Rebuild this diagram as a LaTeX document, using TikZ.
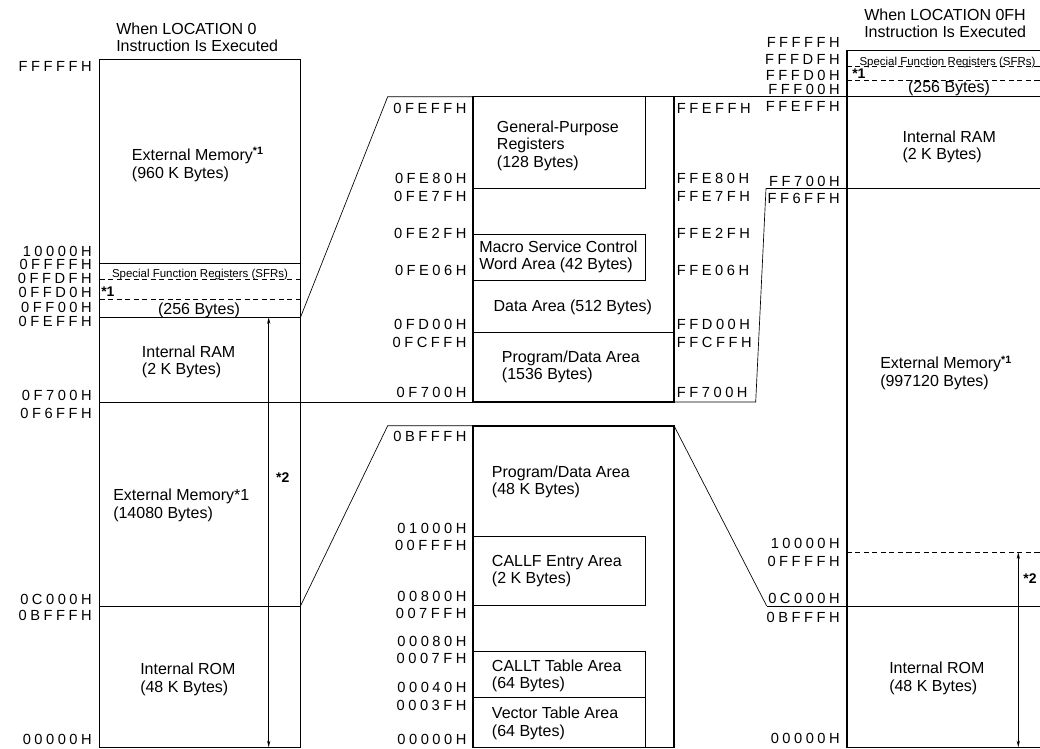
\documentclass[tikz,border=0pt]{standalone}
\usepackage{fontspec}
\setmainfont{Liberation Sans}
\newfontfamily\hexfont[LetterSpace=24]{Liberation Sans}
\usetikzlibrary{arrows.meta}
\tikzset{
  txt/.style={font=\fontsize{12}{13.1}\selectfont, inner sep=0pt, align=left, anchor=base west},
  sfr/.style={font=\fontsize{8.6}{10}\selectfont, inner sep=0pt, anchor=base},
  mid/.style={font=\fontsize{12}{13.1}\selectfont, inner sep=0pt, anchor=base},
  star/.style={font=\bfseries\fontsize{10.5}{12}\selectfont, inner sep=0pt, anchor=base},
  hexR/.style={font=\hexfont\fontsize{11}{12}\selectfont, inner sep=0pt, anchor=base east},
  hexL/.style={font=\hexfont\fontsize{11}{12}\selectfont, inner sep=0pt, anchor=base west},
  outer/.style={line width=1.2pt},
  div/.style={line width=0.7pt},
  dashdiv/.style={line width=0.7pt, dash pattern=on 3.8pt off 2.6pt},
  link/.style={line width=0.5pt},
  dimarrow/.style={line width=0.5pt, {Stealth[length=5pt,width=2.4pt]}-{Stealth[length=5pt,width=2.4pt]}}
}
\newcommand{\sone}{\textsuperscript{\textbf{*1}}}
\begin{document}
\begin{tikzpicture}[x=0.75pt,y=-0.75pt]
\useasboundingbox (0,0) rectangle (1040,749);
\clip (0,0) rectangle (1040,749);

% ---------- named coordinates ----------
\coordinate (LL) at (99.5,59.5);   \coordinate (LR) at (300.5,747.3);
\coordinate (L317) at (300.5,317.3); \coordinate (L606) at (300.5,606);
\coordinate (L402) at (99.5,402);
\coordinate (CT1) at (472.7,96.7); \coordinate (CT2) at (674,402);
\coordinate (CB1) at (472.7,425.7); \coordinate (CB2) at (674,747.3);
\coordinate (TA) at (387.7,96.7);  \coordinate (BA) at (387.7,425.7);
\coordinate (TR) at (674,96.7);    \coordinate (TRe) at (1045,96.7);
\coordinate (BRa) at (755.7,402);  \coordinate (BRb) at (766,188.5); \coordinate (BRe) at (1045,188.5);
\coordinate (BR1) at (674,425.7);  \coordinate (BR2) at (766.7,606); \coordinate (BR3) at (1045,606);
\coordinate (RL) at (846.7,50.7);

% ---------- left column ----------
\draw[outer] (LL) rectangle (LR);
\draw[div] (99.5,263.3) -- (300.5,263.3);
\draw[dashdiv] (99.5,279.3) -- (300.5,279.3);
\draw[dashdiv] (99.5,299.3) -- (300.5,299.3);
\draw[div] (99.5,317.3) -- (L317);
\draw[div] (99.5,606) -- (L606);
\draw[div] (L402) -- (472.7,402);
\draw[dimarrow] (268.7,317.3) -- (268.7,747.3);

% ---------- centre top block ----------
\draw[outer] (CT1) rectangle (CT2);
\draw[div] (472.7,96.7) -- (645.3,96.7) -- (645.3,188.7) -- (472.7,188.7);
\draw[div] (472.7,234) -- (645.3,234) -- (645.3,280.3) -- (472.7,280.3);
\draw[div] (472.7,332.3) -- (674,332.3);
\draw[link] (L317) -- (TA) -- (CT1);
\draw[div] (TR) -- (TRe);
\draw[link] (674,402) -- (BRa) -- (BRb);
\draw[div] (BRb) -- (BRe);

% ---------- centre bottom block ----------
\draw[outer] (CB1) rectangle (CB2);
\draw[div] (472.7,536.7) -- (645.3,536.7) -- (645.3,605.7) -- (472.7,605.7);
\draw[div] (472.7,651.7) -- (645.3,651.7) -- (645.3,747.3);
\draw[div] (472.7,697.3) -- (645.3,697.3);
\draw[link] (L606) -- (BA) -- (CB1);
\draw[link] (BR1) -- (BR2);
\draw[div] (BR2) -- (BR3);

% ---------- right column ----------
\draw[outer] (1045,50.7) -- (RL) -- (846.7,747.3) -- (1045,747.3);
\draw[dashdiv] (846.7,66) -- (1045,66);
\draw[dashdiv] (846.7,80.5) -- (1045,80.5);
\draw[dashdiv] (846.7,552.3) -- (1045,552.3);
\draw[dimarrow] (1018.3,552.3) -- (1018.3,747.3);

% ---------- texts: left column (base = last line) ----------
\node[txt] (t1) at (116,51.5) {When LOCATION 0\\Instruction Is Executed};
\node[txt] (t2) at (131.7,178) {External Memory\sone\\(960 K Bytes)};
\node[sfr] (t3) at (200,277.2) {Special Function Registers (SFRs)};
\node[star,anchor=base west] (t4) at (101,296) {*1};
\node[mid] (t5) at (199,314) {(256 Bytes)};
\node[txt] (t6) at (141.7,374.7) {Internal RAM\\(2 K Bytes)};
\node[txt] (t7) at (113,518) {External Memory*1\\(14080 Bytes)};
\node[txt] (t8) at (140,692) {Internal ROM\\(48 K Bytes)};
\node[star] (t9) at (282.7,482) {*2};

% ---------- texts: centre ----------
\node[txt] (c1) at (496.7,167.1) {General-Purpose\\Registers\\(128 Bytes)};
\node[txt] (c2) at (479,269.7) {Macro Service Control\\Word Area (42 Bytes)};
\node[txt] (c3) at (493.3,311.5) {Data Area (512 Bytes)};
\node[txt] (c4) at (501.7,379.7) {Program/Data Area\\(1536 Bytes)};
\node[txt] (c5) at (491.7,494.7) {Program/Data Area\\(48 K Bytes)};
\node[txt] (c6) at (491.7,583.7) {CALLF Entry Area\\(2 K Bytes)};
\node[txt] (c7) at (491.7,688.7) {CALLT Table Area\\(64 Bytes)};
\node[txt] (c8) at (491.7,736.3) {Vector Table Area\\(64 Bytes)};

% ---------- texts: right column ----------
\node[txt] (r1) at (864,38) {When LOCATION 0FH\\Instruction Is Executed};
\node[sfr] (r2) at (947.5,65.5) {Special Function Registers (SFRs)};
\node[star,anchor=base west] (r3) at (852,79) {*1};
\node[mid] (r4) at (949,93) {(256 Bytes)};
\node[txt] (r5) at (902.3,159.7) {Internal RAM\\(2 K Bytes)};
\node[txt] (r6) at (880,386.3) {External Memory\sone\\(997120 Bytes)};
\node[txt] (r7) at (889,691.3) {Internal ROM\\(48 K Bytes)};
\node[star] (r8) at (1030,583) {*2};

% ---------- address labels ----------
\foreach \n/\t/\y in {a1/FFFFFH/71.7, a2/10000H/256, a3/0FFFFH/269.3, a4/0FFDFH/283.7,
  a5/0FFD0H/297.7, a6/0FF00H/312.3, a7/0FEFFH/326, a8/0F700H/400.7, a9/0F6FFH/418.3,
  a10/0C000H/604, a11/0BFFFH/620, a12/00000H/744.3}
  \node[hexR] (\n) at (92,\y) {\t};
\foreach \n/\t/\y in {b1/0FEFFH/113.3, b2/0FE80H/184, b3/0FE7FH/201, b4/0FE2FH/238.3,
  b5/0FE06H/275.7, b6/0FD00H/329.3, b7/0FCFFH/347.3, b8/0F700H/397.3,
  b9/0BFFFH/441, b10/01000H/533.3, b11/00FFFH/550.7, b12/00800H/601, b13/007FFH/618.3,
  b14/00080H/646, b15/0007FH/663.3, b16/00040H/692.3, b17/0003FH/710, b18/00000H/744.3}
  \node[hexR] (\n) at (466.7,\y) {\t};
\foreach \n/\t/\y in {d1/FFEFFH/113.3, d2/FFE80H/184, d3/FFE7FH/201, d4/FFE2FH/238.3,
  d5/FFE06H/275.7, d6/FFD00H/329.3, d7/FFCFFH/347.3, d8/FF700H/397.3}
  \node[hexL] (\n) at (676.7,\y) {\t};
\foreach \n/\t/\y in {e1/FFFFFH/48, e2/FFFDFH/65, e3/FFFD0H/81, e4/FFF00H/95, e5/FFEFFH/111.7,
  e6/FF700H/186.7, e7/FF6FFH/203.3, e8/10000H/548.3, e9/0FFFFH/566, e10/0C000H/603.7,
  e11/0BFFFH/622.3, e12/00000H/743.7}
  \node[hexR] (\n) at (840,\y) {\t};
\end{tikzpicture}
\end{document}
